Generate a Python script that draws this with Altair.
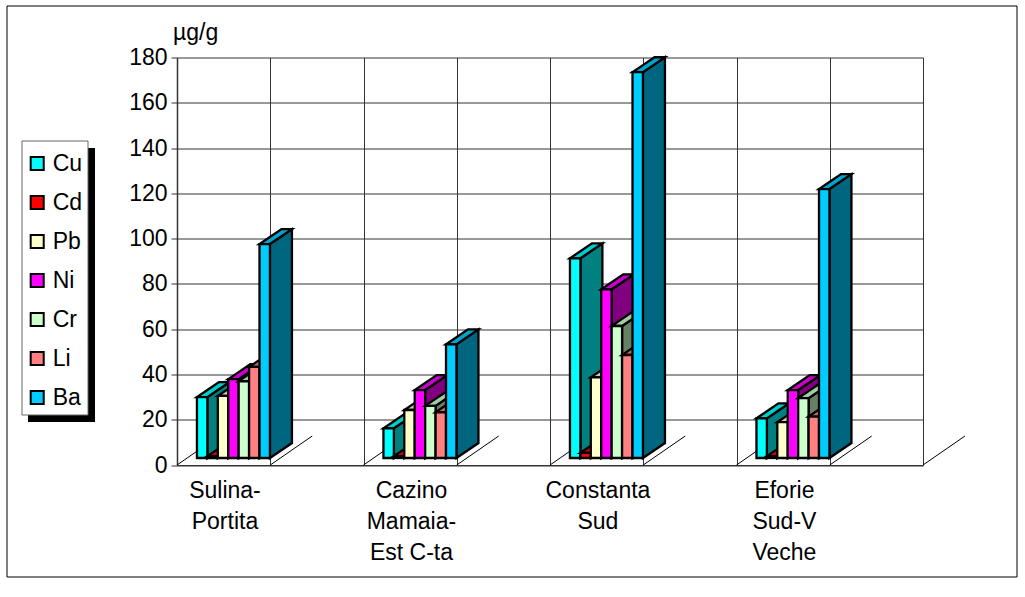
import altair as alt
import pandas as pd

# Heavy-metal concentrations per sampling site
sites = ["Sulina-\nPortita", "Cazino\nMamaia-\nEst C-ta", "Constanta\nSud", "Eforie\nSud-V\nVeche"]
metals = ["Cu", "Cd", "Pb", "Ni", "Cr", "Li", "Ba"]
cu = [26.9, 13.1, 88.2, 17.5]
cd = [0.8, 0.8, 2.3, 0.8]
pb = [27.4, 21.2, 35.6, 15.8]
ni = [34.8, 30.0, 74.5, 30.0]
cr = [33.9, 23.0, 58.3, 26.4]
li = [40.2, 20.2, 45.5, 18.3]
ba = [94.5, 50.2, 170.4, 118.8]
series = [cu, cd, pb, ni, cr, li, ba]

front_colors = ["#00FFFF", "#FF0000", "#FFFFCC", "#FF00FF", "#CCFFCC", "#FF8080", "#00CCFF"]
top_colors = ["#00CCCC", "#CC0000", "#CCCCA3", "#CC00CC", "#A3CCA3", "#CC6666", "#00A3CC"]
side_colors = ["#008080", "#800000", "#808066", "#800080", "#668066", "#804040", "#006680"]

# Pseudo-3D geometry, in scale units (x: sites, y: ug/g)
GROUP_START = 0.107
BAR_W = 0.0559
DEPTH_X = 0.118
DEPTH_Y = 6.6
BASE = 3.1
FLOOR_X = 0.225
FLOOR_Y = 12.8
FONT = "Liberation Sans"
FONT_SIZE = 23

x_scale = alt.Scale(domain=[0, 4], nice=False, zero=False)
y_scale = alt.Scale(domain=[0, 180], nice=False, zero=False)
X = alt.X("x:Q", scale=x_scale, title=None,
          axis=alt.Axis(values=[i / 2 for i in range(9)], labels=False, ticks=False, grid=True,
                        gridColor="#333333", gridWidth=1, domainColor="#333333", domainWidth=1,
                        gridOpacity=1))
Y = alt.Y("y:Q", scale=y_scale, title=None,
          axis=alt.Axis(values=list(range(0, 181, 20)), grid=True, gridColor="#333333", gridWidth=1,
                        gridOpacity=1, domainColor="#333333", domainWidth=1.5, tickColor="#333333",
                        tickSize=6, labelFontSize=FONT_SIZE, labelFont=FONT, labelColor="black",
                        labelPadding=4))

one_row = alt.Data(values=[{"k": 1}])
layers = []

# Outer frame, then the legend's drop shadow and its box
layers.append(alt.Chart(one_row).mark_rect(fill="transparent", stroke="black", strokeWidth=1).encode(
    x=alt.value(-170), x2=alt.value(840), y=alt.value(-51.5), y2=alt.value(519.5)))
layers.append(alt.Chart(one_row).mark_rect(fill="black").encode(
    x=alt.value(-149), x2=alt.value(-82), y=alt.value(90.5), y2=alt.value(364.5)))
layers.append(alt.Chart(one_row).mark_rect(fill="white", stroke="#666666", strokeWidth=1).encode(
    x=alt.value(-155), x2=alt.value(-89), y=alt.value(83.5), y2=alt.value(357.5)))

# Floor lines running back from every gridline
floor = pd.DataFrame({"x": [i / 2 for i in range(9)]})
floor["x2"] = floor.x + FLOOR_X
floor["y"] = 0.0
floor["y2"] = FLOOR_Y
layers.append(alt.Chart(floor).mark_rule(color="black", strokeWidth=1).encode(
    x=X, x2="x2:Q", y=Y, y2="y2:Q"))


def bar_tables(k, values):
    rects, sides, tops = [], [], []
    for c, v in enumerate(values):
        x0 = c + GROUP_START + k * BAR_W
        x1 = x0 + BAR_W
        rects.append({"x": x0, "x2": x1, "y": BASE, "y2": BASE + v, "metal": metals[k]})
        # Right face: a parallelogram stepping back by the depth offset
        sides.append({"site": c, "x": x1, "y": BASE, "y2": BASE + v})
        sides.append({"site": c, "x": x1 + DEPTH_X, "y": BASE + DEPTH_Y, "y2": BASE + v + DEPTH_Y})
        # Upper face, sampled at its four corner abscissae
        t = BASE + v
        rise = DEPTH_Y * BAR_W / DEPTH_X
        tops.append({"site": c, "x": x0, "y": t, "y2": t})
        tops.append({"site": c, "x": x1, "y": t, "y2": t + rise})
        tops.append({"site": c, "x": x0 + DEPTH_X, "y": t + DEPTH_Y - rise, "y2": t + DEPTH_Y})
        tops.append({"site": c, "x": x1 + DEPTH_X, "y": t + DEPTH_Y, "y2": t + DEPTH_Y})
    return pd.DataFrame(rects), pd.DataFrame(sides), pd.DataFrame(tops)


legend = alt.Legend(title=None, orient="none", legendX=-159.3, legendY=86.5, symbolType="square",
                    symbolSize=170, symbolStrokeColor="black", symbolStrokeWidth=2,
                    labelFontSize=FONT_SIZE, labelFont=FONT, labelColor="black", rowPadding=15,
                    padding=8, labelOffset=4, symbolOpacity=1)
color = alt.Color("metal:N", scale=alt.Scale(domain=metals, range=front_colors), legend=legend, sort=metals)

for k, values in enumerate(series):
    rects, sides, tops = bar_tables(k, values)
    outline = dict(stroke="black", strokeWidth=2.3, strokeJoin="miter")
    layers.append(alt.Chart(sides).mark_area(fill=side_colors[k], opacity=1, orient="vertical", **outline).encode(
        x=X, y=Y, y2="y2:Q", detail="site:N"))
    layers.append(alt.Chart(tops).mark_area(fill=top_colors[k], opacity=1, orient="vertical", **outline).encode(
        x=X, y=Y, y2="y2:Q", detail="site:N"))
    layers.append(alt.Chart(rects).mark_rect(opacity=1, **outline).encode(
        x=X, x2="x2:Q", y=Y, y2="y2:Q", color=color))

# Site names under the floor
labels = pd.DataFrame({"x": [i + 0.257 for i in range(len(sites))], "text": sites})
layers.append(alt.Chart(labels).mark_text(
    lineBreak="\n", lineHeight=31, baseline="top", align="center", fontSize=FONT_SIZE,
    font=FONT, color="black").encode(
    x=X, y=alt.value(422), text="text:N"))

# Unit caption above the value axis
layers.append(alt.Chart(alt.Data(values=[{"t": "µg/g"}])).mark_text(
    align="left", baseline="middle", fontSize=FONT_SIZE, font=FONT, color="black").encode(
    x=alt.value(-4), y=alt.value(-25), text="t:N"))

chart = alt.layer(*layers).properties(
    width=746, height=407.5, autosize="none",
    padding={"left": 177, "top": 57.5, "right": 102, "bottom": 132},
    background="white",
).configure_view(stroke=None)

chart.save("out.html", embed_options={"renderer": "svg", "actions": False})
